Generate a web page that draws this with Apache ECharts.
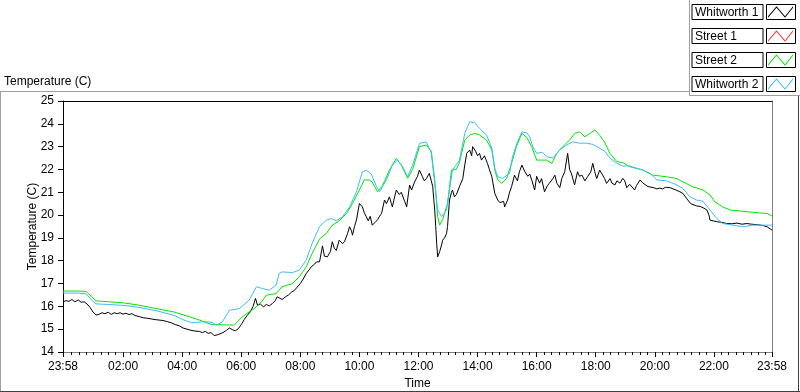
<!DOCTYPE html>
<html>
<head>
<meta charset="utf-8">
<title>Temperature</title>
<script src="https://cdn.jsdelivr.net/npm/echarts@6/dist/echarts.min.js"></script>
<style>
  html, body { margin: 0; padding: 0; background: #fff; }
  #main { width: 800px; height: 392px; }
</style>
</head>
<body>
<div id="main"></div>
<script>
var chart = echarts.init(document.getElementById('main'));

var legendNames = ['Whitworth 1', 'Street 1', 'Street 2', 'Whitworth 2'];
var seriesColors = ['#000000', '#ff3030', '#00e800', '#3cbcff'];
// x is minutes after midnight, the run goes from 23:58 to 23:58
var xLabelValues = [-2, 120, 240, 360, 480, 600, 720, 840, 960, 1080, 1200, 1320, 1438];

// [minute, temperature C]
var whitworth1 = [
  [-2,16.2],[4,16.25],[10,16.22],[16,16.3],[22,16.2],[29,16.28],[35,16.18],[41,16.2],[47,16.1],[53,15.95],
  [59,15.75],[65,15.62],[71,15.65],[77,15.72],[83,15.68],[90,15.74],[96,15.65],[102,15.72],[108,15.68],[114,15.72],
  [120,15.66],[126,15.7],[132,15.64],[138,15.68],[144,15.6],[153,15.55],[161,15.5],[169,15.48],[177,15.45],[185,15.42],
  [193,15.4],[201,15.38],[210,15.33],[218,15.28],[226,15.2],[234,15.15],[242,15.05],[250,15.0],[258,14.95],[266,14.92],
  [275,14.9],[281,14.85],[287,14.9],[293,14.82],[299,14.85],[305,14.72],[311,14.75],[317,14.8],[323,14.85],[330,14.95],
  [336,15.05],[342,14.98],[348,14.93],[354,15.02],[360,15.2],[366,15.42],[372,15.6],[378,15.75],[384,16.0],[389,16.35],
  [393,16.05],[399,16.1],[405,15.98],[411,16.08],[417,16.02],[423,16.12],[429,16.25],[433,16.42],[437,16.38],[443,16.3],
  [450,16.42],[456,16.5],[462,16.62],[468,16.7],[474,16.85],[480,17.0],[486,17.2],[492,17.44],[498,17.6],[502,17.73],
  [509,17.85],[513,17.95],[519,17.95],[525,18.65],[529,18.2],[535,18.17],[541,18.4],[545,18.83],[549,18.55],[553,18.45],
  [559,18.9],[566,18.75],[570,18.85],[576,19.2],[580,19.49],[584,19.3],[586,19.12],[590,19.5],[594,19.78],[600,20.51],
  [606,20.36],[610,20.1],[614,19.93],[618,19.75],[622,19.95],[626,19.56],[633,19.7],[637,19.8],[641,19.95],[645,20.07],
  [651,20.66],[655,20.5],[661,20.8],[665,20.5],[667,20.36],[671,20.75],[675,21.1],[681,20.9],[685,21.0],[692,20.6],
  [696,20.36],[702,21.32],[706,21.1],[712,21.45],[718,21.7],[722,21.97],[728,21.68],[732,21.5],[736,21.6],[742,21.83],
  [746,21.5],[749,21.24],[751,20.7],[753,20.22],[755,19.5],[757,18.76],[759,18.17],[761,18.1],[763,18.4],[767,18.7],
  [769,18.9],[773,19.0],[777,19.2],[779,19.5],[783,20.66],[787,21.0],[789,21.1],[793,20.8],[797,20.9],[803,21.24],
  [810,21.6],[814,22.2],[818,22.71],[824,22.85],[828,22.6],[830,23.0],[836,22.8],[840,22.6],[844,22.7],[848,22.41],
  [854,22.6],[860,22.27],[864,22.0],[869,21.68],[875,20.95],[881,20.66],[885,20.55],[889,20.51],[893,20.6],[895,20.36],
  [901,20.66],[905,21.0],[909,21.24],[915,21.75],[921,21.5],[925,21.9],[930,22.19],[936,21.9],[942,21.7],[946,21.8],
  [950,21.54],[956,21.1],[960,21.7],[966,21.4],[970,21.6],[976,21.02],[982,21.3],[986,21.4],[993,21.6],[997,21.75],
  [1001,21.4],[1007,21.2],[1011,21.6],[1017,21.9],[1023,22.71],[1027,22.0],[1031,21.8],[1037,21.32],[1043,21.9],[1047,21.7],
  [1052,21.75],[1058,21.5],[1064,21.7],[1070,21.9],[1074,22.27],[1078,21.9],[1082,21.6],[1088,21.97],[1094,21.75],[1098,21.6],
  [1102,21.39],[1109,21.6],[1113,21.4],[1119,21.32],[1123,21.5],[1129,21.4],[1135,21.61],[1139,21.5],[1143,21.2],[1149,21.35],
  [1153,21.4],[1159,21.1],[1163,21.3],[1170,21.54],[1176,21.4],[1180,21.33],[1186,21.25],[1190,21.17],[1198,21.2],[1204,21.15],
  [1210,21.18],[1216,21.15],[1222,21.22],[1226,21.24],[1231,21.2],[1237,21.15],[1243,21.1],[1251,21.02],[1257,20.95],[1261,20.88],
  [1267,20.66],[1273,20.5],[1277,20.44],[1285,20.4],[1292,20.38],[1300,20.3],[1306,20.22],[1310,20.0],[1312,19.78],[1320,19.74],
  [1326,19.71],[1336,19.68],[1346,19.63],[1357,19.62],[1367,19.65],[1377,19.6],[1387,19.63],[1397,19.6],[1407,19.58],[1418,19.55],
  [1428,19.49],[1438,19.34]
];

var street1 = [];

var street2 = [
  [-2,16.67],[31,16.67],[45,16.65],[55,16.45],[65,16.24],[92,16.2],[122,16.15],[153,16.05],[193,15.88],[224,15.75],
  [254,15.55],[275,15.4],[289,15.28],[301,15.2],[346,15.18],[362,15.54],[376,15.75],[391,15.98],[401,16.2],[411,16.49],
  [431,16.56],[443,16.86],[464,17.0],[478,17.3],[492,17.73],[504,18.32],[519,18.95],[533,19.2],[545,19.56],[559,19.75],
  [574,20.07],[586,20.51],[600,21.1],[610,21.54],[620,21.54],[626,21.45],[637,21.02],[647,21.3],[661,21.97],[675,22.49],
  [685,22.2],[698,21.61],[708,22.0],[722,23.0],[736,23.07],[746,22.8],[753,21.54],[759,19.93],[763,19.56],[769,19.8],
  [779,20.51],[787,21.97],[797,22.0],[803,22.3],[814,23.29],[824,23.51],[834,23.58],[844,23.51],[858,23.29],[869,22.85],
  [875,21.97],[881,21.54],[889,21.39],[899,21.6],[909,22.27],[919,23.0],[930,23.58],[940,23.4],[950,23.0],[960,22.41],
  [980,22.41],[991,22.27],[1001,22.71],[1013,23.0],[1027,23.29],[1037,23.58],[1047,23.65],[1058,23.43],[1068,23.58],[1078,23.73],
  [1088,23.5],[1098,23.2],[1109,22.7],[1123,22.34],[1135,22.3],[1149,22.12],[1163,22.05],[1176,21.97],[1196,21.75],[1224,21.68],
  [1245,21.6],[1257,21.46],[1277,21.24],[1298,21.1],[1312,20.88],[1322,20.58],[1338,20.36],[1353,20.22],[1373,20.18],[1399,20.12],
  [1428,20.07],[1438,19.96]
];

var whitworth2 = [
  [-2,16.58],[31,16.58],[45,16.55],[55,16.3],[65,16.11],[92,16.08],[122,16.04],[153,15.95],[193,15.78],[224,15.6],
  [244,15.4],[260,15.28],[285,15.33],[301,15.3],[309,15.18],[321,15.3],[336,15.83],[356,15.9],[376,16.27],[391,16.86],
  [403,16.78],[417,16.71],[431,16.93],[437,17.44],[443,17.51],[464,17.48],[478,17.59],[492,18.03],[504,18.76],[519,19.5],
  [533,19.78],[543,19.85],[553,19.75],[566,19.93],[580,20.36],[594,21.02],[606,21.9],[614,21.97],[624,21.8],[635,21.24],
  [641,21.02],[655,21.54],[667,22.19],[677,22.41],[688,22.12],[698,21.68],[708,22.19],[722,23.14],[736,23.21],[746,22.71],
  [753,21.39],[759,20.22],[767,19.93],[777,20.22],[783,21.1],[789,21.97],[803,22.4],[814,23.58],[824,24.09],[834,24.05],
  [844,23.8],[858,23.51],[869,22.93],[875,22.05],[881,21.68],[891,21.61],[905,21.83],[911,22.56],[921,23.21],[930,23.65],
  [940,23.6],[946,23.43],[952,23.0],[960,22.71],[972,22.75],[980,22.56],[993,22.5],[1007,22.85],[1021,23.07],[1033,23.21],
  [1047,23.15],[1062,23.15],[1074,23.1],[1088,22.93],[1098,22.8],[1109,22.5],[1123,22.27],[1135,22.15],[1149,22.15],[1163,22.05],
  [1176,21.97],[1190,21.83],[1204,21.54],[1224,21.5],[1245,21.32],[1257,21.17],[1271,20.8],[1285,20.66],[1298,20.6],[1312,20.22],
  [1326,19.85],[1338,19.63],[1359,19.56],[1379,19.49],[1399,19.56],[1438,19.56]
];

// quarter hour minor ticks
var minorTicks = [];
for (var m = 15; m < 1438; m += 15) minorTicks.push(m);

function hhmm(v) {
  var t = ((v % 1440) + 1440) % 1440;
  var h = Math.floor(t / 60), mi = t % 60;
  return (h < 10 ? '0' : '') + h + ':' + (mi < 10 ? '0' : '') + mi;
}

var font = 'Liberation Sans';
var txt = { fontFamily: font, fontSize: 12, color: '#000' };
var zigzag = 'path://M0 11L8.5 1L17 11L25 1L25 2.6L17 12.6L8.5 2.6L0 12.6Z';

function lineSeries(i, data) {
  return {
    name: legendNames[i],
    type: 'line',
    data: data,
    color: seriesColors[i],
    symbol: 'none',
    showSymbol: false,
    silent: true,
    lineStyle: { color: seriesColors[i], width: 1 }
  };
}

// little frames round the legend samples
var sampleFrames = [0, 1, 2, 3].map(function (i) {
  return {
    type: 'rect',
    shape: { x: 766.5, y: 4.5 + i * 24, width: 29, height: 15 },
    style: { fill: null, stroke: '#000', lineWidth: 1 }
  };
});

var option = {
  animation: false,
  backgroundColor: '#fff',
  title: {
    text: 'Temperature (C)',
    left: 4,
    top: 76,
    padding: 0,
    textStyle: { fontFamily: font, fontSize: 12, fontWeight: 'normal', color: '#000' }
  },
  legend: {
    data: legendNames,
    orient: 'vertical',
    right: 7,
    top: 4,
    padding: 0,
    itemGap: 8,
    itemWidth: 25,
    itemHeight: 12,
    align: 'right',
    icon: zigzag,
    selectedMode: false,
    itemStyle: { borderWidth: 0 },
    formatter: '{n|{name}}',
    textStyle: {
      fontFamily: font, fontSize: 12, color: '#000',
      borderColor: '#000', borderWidth: 1, padding: [1, 2, 0, 3],
      rich: { n: { width: 66, align: 'left', fontFamily: font, fontSize: 12, lineHeight: 14, color: '#000' } }
    }
  },
  grid: [
    { left: 63, top: 101, width: 709, height: 251, outerBoundsMode: 'none' },
    { left: 63, top: 101, width: 709, height: 251, outerBoundsMode: 'none' }
  ],
  xAxis: [
    {
      gridIndex: 0, type: 'value', position: 'bottom', min: -2, max: 1438,
      name: 'Time', nameLocation: 'middle', nameGap: 26, nameMoveOverlap: false, nameTextStyle: txt,
      axisLine: { show: true, onZero: false, lineStyle: { color: '#808080', width: 1 } },
      axisTick: { show: true, customValues: xLabelValues, length: 5, lineStyle: { color: '#000' } },
      axisLabel: { customValues: xLabelValues, formatter: hhmm, margin: 9, fontFamily: font, fontSize: 12, color: '#000' },
      splitLine: { show: false }
    },
    {
      gridIndex: 0, type: 'value', position: 'top', min: -2, max: 1438,
      axisLine: { show: true, onZero: false, lineStyle: { color: '#000', width: 1 } },
      axisTick: { show: false }, axisLabel: { show: false }, splitLine: { show: false }
    },
    {
      gridIndex: 1, type: 'value', position: 'bottom', min: -2, max: 1438,
      axisLine: { show: false },
      axisTick: { show: true, customValues: minorTicks, length: 3, lineStyle: { color: '#000' } },
      axisLabel: { show: false }, splitLine: { show: false }
    }
  ],
  yAxis: [
    {
      gridIndex: 0, type: 'value', position: 'left', min: 14, max: 25, interval: 1,
      name: 'Temperature (C)', nameLocation: 'middle', nameGap: 24, nameMoveOverlap: false, nameTextStyle: txt,
      axisLine: { show: true, onZero: false, lineStyle: { color: '#000', width: 1 } },
      axisTick: { show: true, length: 5, lineStyle: { color: '#000' } },
      axisLabel: { margin: 9, fontFamily: font, fontSize: 12, color: '#000' },
      splitLine: { show: false }
    },
    {
      gridIndex: 0, type: 'value', position: 'right', min: 14, max: 25,
      axisLine: { show: true, onZero: false, lineStyle: { color: '#808080', width: 1 } },
      axisTick: { show: false }, axisLabel: { show: false }, splitLine: { show: false }
    },
    { gridIndex: 1, type: 'value', min: 14, max: 25, show: false }
  ],
  graphic: [
    { type: 'line', shape: { x1: 0, y1: 91.5, x2: 690, y2: 91.5 }, style: { stroke: '#a0a0a0', lineWidth: 1 } },
    { type: 'line', shape: { x1: 0.5, y1: 91, x2: 0.5, y2: 392 }, style: { stroke: '#a0a0a0', lineWidth: 1 } },
    { type: 'line', shape: { x1: 0, y1: 391.5, x2: 800, y2: 391.5 }, style: { stroke: '#404040', lineWidth: 1 } },
    { type: 'line', shape: { x1: 798.5, y1: 95, x2: 798.5, y2: 392 }, style: { stroke: '#404040', lineWidth: 1 } },
    { type: 'line', shape: { x1: 689.5, y1: 0, x2: 689.5, y2: 96 }, style: { stroke: '#a0a0a0', lineWidth: 1 } },
    { type: 'line', shape: { x1: 689, y1: 95.5, x2: 800, y2: 95.5 }, style: { stroke: '#a0a0a0', lineWidth: 1 } }
  ].concat(sampleFrames),
  series: [
    lineSeries(0, whitworth1),
    lineSeries(1, street1),
    lineSeries(2, street2),
    lineSeries(3, whitworth2)
  ]
};

chart.setOption(option);
</script>
</body>
</html>
